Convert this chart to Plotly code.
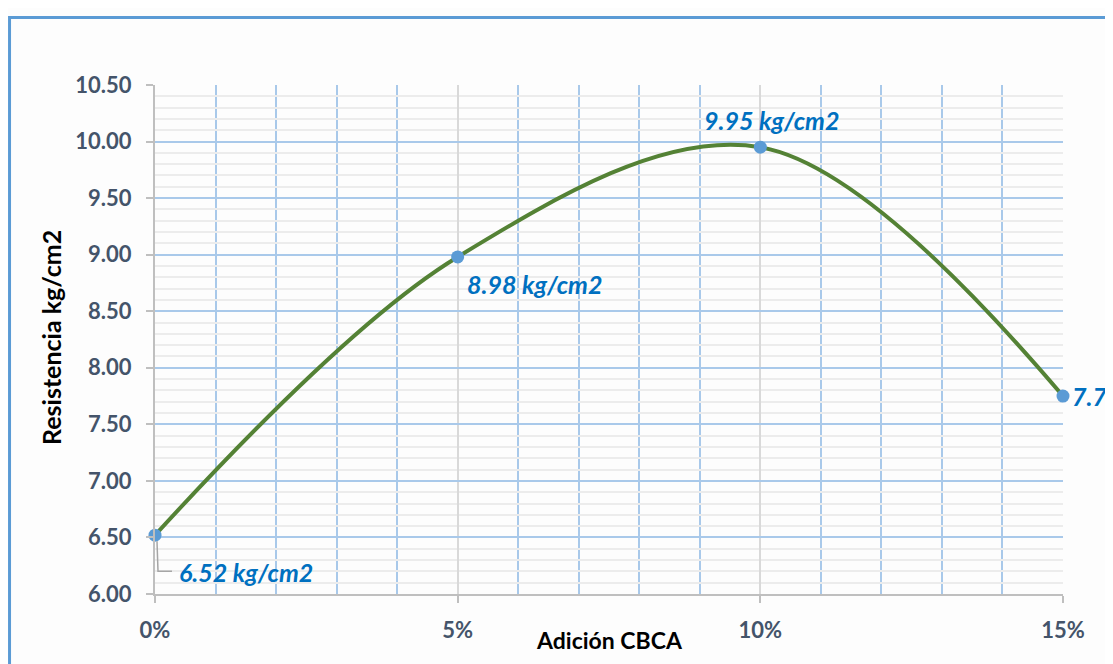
import plotly.graph_objects as go

x_vals = [0.00, 0.05, 0.10, 0.15]
y_vals = [6.52, 8.98, 9.95, 7.75]
labels = ["6.52 kg/cm2", "8.98 kg/cm2", "9.95 kg/cm2", "7.75 kg/cm2"]
y_ticks = [6.0, 6.5, 7.0, 7.5, 8.0, 8.5, 9.0, 9.5, 10.0, 10.5]
y_ticktext = ["%.2f" % v for v in y_ticks]
x_ticks = [0.00, 0.05, 0.10, 0.15]
x_ticktext = ["0%", "5%", "10%", "15%"]

FONT = "Lato"
TICK_COLOR = "#44546a"
LABEL_COLOR = "#0070c0"

fig = go.Figure()
fig.add_trace(go.Scatter(
    x=x_vals, y=y_vals, mode="lines+markers",
    line=dict(color="#548235", width=4, shape="spline", smoothing=1.0),
    marker=dict(color="#5b9bd5", size=13),
    cliponaxis=False, showlegend=False, hoverinfo="skip",
))

# label offsets (pixels) relative to each data point
offsets = [
    dict(xanchor="left", xshift=22, yshift=-37),
    dict(xanchor="left", xshift=7, yshift=-27),
    dict(xanchor="center", xshift=11, yshift=27),
    dict(xanchor="left", xshift=7, yshift=0),
]
for xv, yv, t, o in zip(x_vals, y_vals, labels, offsets):
    fig.add_annotation(x=xv, y=yv, text=t, showarrow=False,
                       font=dict(family=FONT, size=25, color=LABEL_COLOR, weight="bold", style="italic"),
                       yanchor="middle", **o)

# leader line for first label
fig.add_shape(type="path", xref="x", yref="y", xsizemode="pixel", ysizemode="pixel",
              xanchor=x_vals[0], yanchor=y_vals[0],
              path="M 2 -6 L 3 -36 L 17 -36",
              line=dict(color="#a6a6a6", width=1.5))

# outer blue frame
fig.add_shape(type="rect", xref="paper", yref="paper",
              x0=-0.1602, x1=1.2, y0=-0.3, y1=1.1326,
              line=dict(color="#5b9bd5", width=3), layer="below")

fig.add_annotation(text="Resistencia kg/cm2", xref="paper", yref="paper",
                   x=-0.1145, y=0.503, textangle=-90, showarrow=False,
                   xanchor="center", yanchor="middle",
                   font=dict(family=FONT, size=25, color="#000000", weight="bold"))
fig.add_annotation(text="Adición CBCA", xref="paper", yref="paper",
                   x=0.500, y=-0.0904, showarrow=False, xanchor="center", yanchor="middle",
                   font=dict(family=FONT, size=23, color="#000000", weight="bold"))

fig.update_layout(
    width=1105, height=656,
    margin=dict(l=147, r=50, t=77, b=70),
    paper_bgcolor="#fdfdfd", plot_bgcolor="#fdfdfd",
    font=dict(family=FONT),
)
fig.update_xaxes(
    range=[0, 0.15], tickvals=x_ticks, ticktext=x_ticktext,
    showline=True, linecolor="#bfbfbf", linewidth=2,
    ticks="outside", ticklen=7, tickcolor="#bfbfbf", tickwidth=2,
    showgrid=True, gridcolor="#d9d9d9", gridwidth=2,
    minor=dict(dtick=0.01, showgrid=True, gridcolor="#a9c9ea", gridwidth=1.5, ticks=""),
    tickfont=dict(family=FONT, size=22, color=TICK_COLOR, weight="bold"),
    ticklabelstandoff=9, zeroline=False,
)
fig.update_yaxes(
    range=[6.0, 10.5], tickvals=y_ticks, ticktext=y_ticktext,
    showline=True, linecolor="#bfbfbf", linewidth=2,
    ticks="outside", ticklen=7, tickcolor="#bfbfbf", tickwidth=2,
    showgrid=True, gridcolor="#a9c9ea", gridwidth=2,
    minor=dict(dtick=0.1, tick0=6.0, showgrid=True, gridcolor="#ececec", gridwidth=2, ticks=""),
    tickfont=dict(family=FONT, size=22, color=TICK_COLOR, weight="bold"),
    ticklabelstandoff=10, zeroline=False,
)

fig.write_html("out.html")
